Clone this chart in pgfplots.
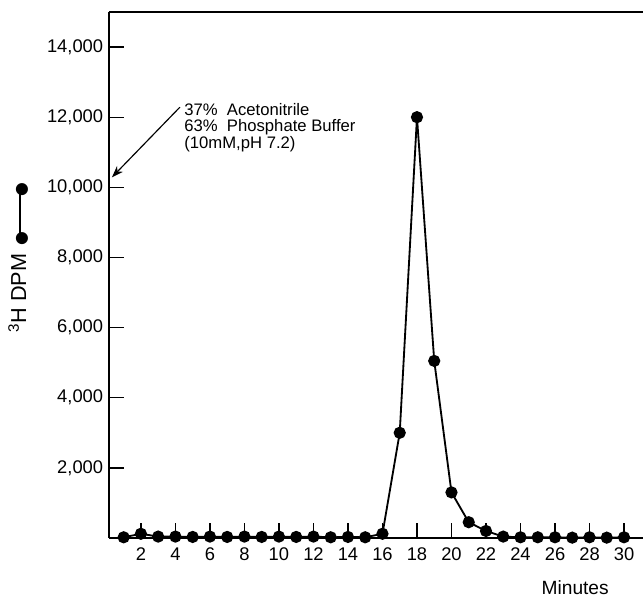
\documentclass[border=0pt]{standalone}
\usepackage{pgfplots}
\pgfplotsset{compat=1.18}
\usepackage{fontspec}
\setmainfont{Liberation Sans}
\newfontfamily\symfont{DejaVu Sans}
\usetikzlibrary{arrows.meta}

\newcommand{\dotsym}{{\symfont\fontsize{9.5}{9.5}\selectfont●}}

\begin{document}
\begin{tikzpicture}
\begin{axis}[
  name=ax,
  width=320.4pt, height=315.6pt, scale only axis,
  xmin=0.15, xmax=31.1, ymin=0, ymax=15000,
  axis x line=box, axis y line=left,
  axis line style={-, line width=1pt},
  xtick={2,4,...,30}, ytick={2000,4000,...,14000},
  xtick pos=lower, ytick pos=left,
  tick align=inside,
  major tick length=9pt,
  tick style={line width=0.8pt, black},
  /pgf/number format/assume math mode=true,
  /pgf/number format/1000 sep={,},
  scaled y ticks=false,
  ticklabel style={font=\fontsize{11}{13}\selectfont},
  xticklabel style={yshift=-2.4pt},
  ylabel={\textsuperscript{3}H DPM\hspace{5pt}\dotsym\kern-1.5pt\rule[3.2pt]{24pt}{1.2pt}\kern-1.5pt\dotsym},
  ylabel style={font=\fontsize{13}{15}\selectfont, at={(ticklabel cs:0.533,4.5pt)}},
  xlabel={Minutes},
  xlabel style={font=\fontsize{11.5}{13}\selectfont, at={(rel axis cs:0.873,0)}, anchor=north, yshift=-22pt},
  clip=false,
]
\addplot[black, line width=1.1pt, mark=*, mark size=3.1pt, mark options={solid, fill=black}] coordinates {
  (1,20) (2,120) (3,40) (4,40) (5,30) (6,40) (7,30) (8,40) (9,30) (10,40)
  (11,30) (12,40) (13,20) (14,30) (15,20) (16,120) (17,3000) (18,12000) (19,5050) (20,1300)
  (21,450) (22,200) (23,40) (24,20) (25,20) (26,20) (27,10) (28,20) (29,10) (30,20)
};
\draw[-{Stealth[length=7pt,width=5pt]}, line width=0.7pt] (axis cs:4.26,12286) -- (axis cs:0.32,10286);
\node[anchor=north west, align=left, inner sep=0pt, font=\fontsize{10}{9.8}\selectfont] at (axis cs:4.5,12400)
  {37\%\ \ Acetonitrile\\63\%\ \ Phosphate Buffer\\(10mM,pH 7.2)};
\end{axis}
\pgfresetboundingbox
\path ([shift={(-65.4pt,-37.2pt)}]ax.south west) rectangle ([shift={(0pt,7.2pt)}]ax.north east);
\end{tikzpicture}
\end{document}
